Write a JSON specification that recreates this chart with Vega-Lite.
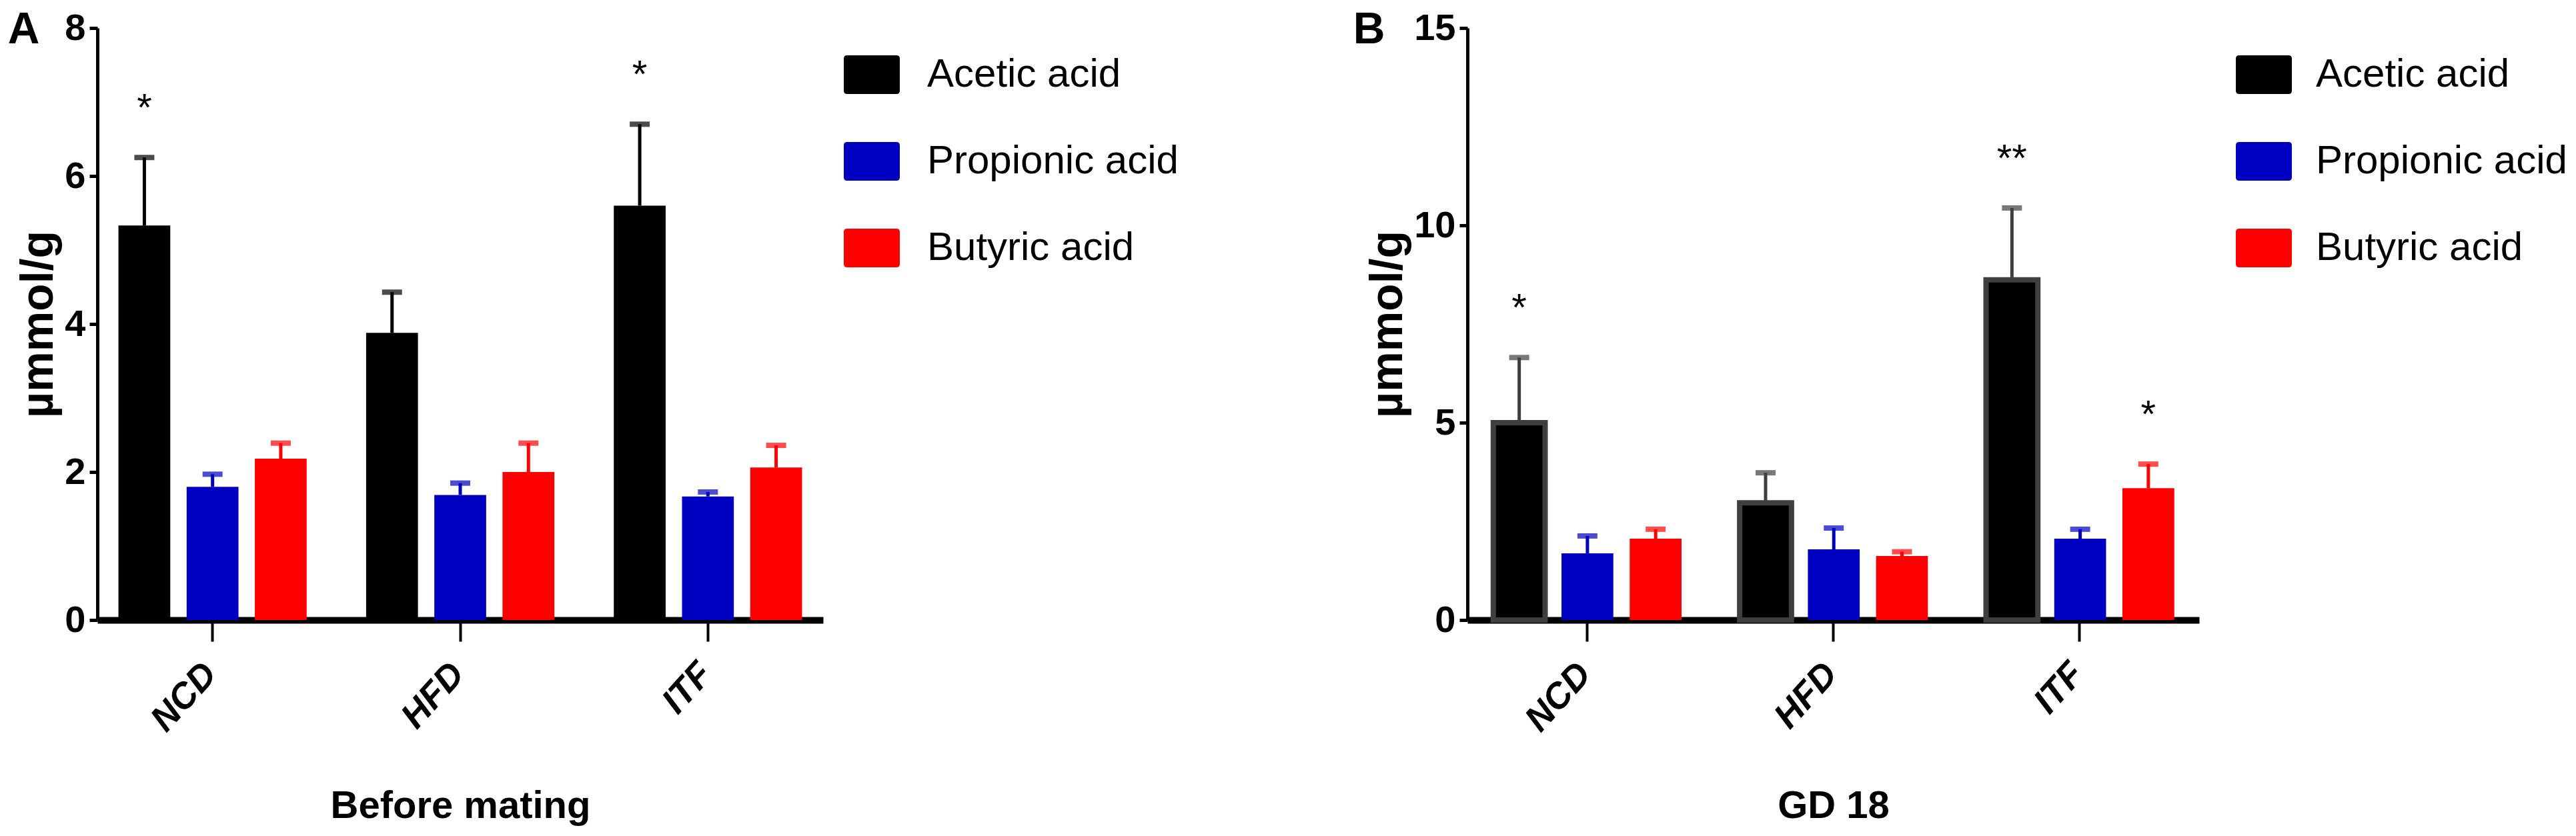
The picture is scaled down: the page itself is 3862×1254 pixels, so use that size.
{
  "$schema": "https://vega.github.io/schema/vega-lite/v6.json",
  "background": "white",
  "padding": {"left": 11, "top": 12, "right": 0, "bottom": 0},
  "config": {
    "view": {"stroke": null},
    "font": "Liberation Sans",
    "axis": {"domainColor": "black", "tickColor": "black", "labelColor": "black", "titleColor": "black", "grid": false, "labelFont": "Liberation Sans", "titleFont": "Liberation Sans"},
    "axisY": {"domainWidth": 5, "tickWidth": 5, "tickSize": 12, "labelFontSize": 56, "labelFontWeight": "bold", "labelPadding": 6, "titleFontSize": 68, "titleFontWeight": "bold", "titlePadding": 4, "format": "d"},
    "axisX": {"domainWidth": 10, "tickWidth": 4, "tickSize": 32, "labelFontSize": 54, "labelFontWeight": "bold", "labelFontStyle": "italic", "labelAngle": -48, "labelPadding": 40, "labelOffset": -3, "titleFontSize": 58, "titleFontWeight": "bold", "titlePadding": 73},
    "title": {"fontSize": 66, "fontWeight": "bold", "anchor": "start", "frame": "bounds", "offset": -65, "color": "black", "font": "Liberation Sans"}
  },
  "datasets": {
    "a": [
      {"group": "NCD", "acid": "Acetic acid", "mean": 5.33, "err": 6.25, "sig": "*"},
      {"group": "NCD", "acid": "Propionic acid", "mean": 1.80, "err": 1.97, "sig": ""},
      {"group": "NCD", "acid": "Butyric acid", "mean": 2.18, "err": 2.39, "sig": ""},
      {"group": "HFD", "acid": "Acetic acid", "mean": 3.88, "err": 4.43, "sig": ""},
      {"group": "HFD", "acid": "Propionic acid", "mean": 1.69, "err": 1.85, "sig": ""},
      {"group": "HFD", "acid": "Butyric acid", "mean": 2.00, "err": 2.39, "sig": ""},
      {"group": "ITF", "acid": "Acetic acid", "mean": 5.60, "err": 6.70, "sig": "*"},
      {"group": "ITF", "acid": "Propionic acid", "mean": 1.67, "err": 1.73, "sig": ""},
      {"group": "ITF", "acid": "Butyric acid", "mean": 2.06, "err": 2.36, "sig": ""}
    ],
    "b": [
      {"group": "NCD", "acid": "Acetic acid", "mean": 5.0, "err": 6.65, "sig": "*"},
      {"group": "NCD", "acid": "Propionic acid", "mean": 1.69, "err": 2.13, "sig": ""},
      {"group": "NCD", "acid": "Butyric acid", "mean": 2.06, "err": 2.30, "sig": ""},
      {"group": "HFD", "acid": "Acetic acid", "mean": 2.97, "err": 3.73, "sig": ""},
      {"group": "HFD", "acid": "Propionic acid", "mean": 1.79, "err": 2.33, "sig": ""},
      {"group": "HFD", "acid": "Butyric acid", "mean": 1.62, "err": 1.73, "sig": ""},
      {"group": "ITF", "acid": "Acetic acid", "mean": 8.62, "err": 10.44, "sig": "**"},
      {"group": "ITF", "acid": "Propionic acid", "mean": 2.06, "err": 2.30, "sig": ""},
      {"group": "ITF", "acid": "Butyric acid", "mean": 3.34, "err": 3.95, "sig": "*"}
    ]
  },
  "spacing": 233,
  "resolve": {"scale": {"color": "independent"}, "legend": {"color": "independent"}},
  "hconcat": [
    {
      "title": {"text": "A", "dx": -13},
      "width": 1088,
      "height": 888,
      "data": {"name": "a"},
      "encoding": {
        "x": {"field": "group", "type": "nominal", "sort": ["NCD", "HFD", "ITF"], "scale": {"paddingInner": 0.24, "paddingOuter": 0.085}, "axis": {"title": "Before mating"}},
        "xOffset": {"field": "acid", "type": "nominal", "sort": ["Acetic acid", "Propionic acid", "Butyric acid"], "scale": {"paddingInner": 0.24, "paddingOuter": 0}}
      },
      "layer": [
        {
          "mark": {"type": "bar"},
          "encoding": {
            "y": {"field": "mean", "type": "quantitative", "title": "µmmol/g", "scale": {"domain": [0, 8], "nice": false}, "axis": {"values": [0, 2, 4, 6, 8]}},
            "color": {
              "field": "acid", "type": "nominal", "sort": ["Acetic acid", "Propionic acid", "Butyric acid"],
              "scale": {"domain": ["Acetic acid", "Propionic acid", "Butyric acid"], "range": ["#000000", "#0000C0", "#FF0000"]},
              "legend": {"title": null, "orient": "right", "offset": 3, "padding": 28, "symbolType": "M-0.88,-0.69L0.88,-0.69Q1,-0.69 1,-0.57L1,0.57Q1,0.69 0.88,0.69L-0.88,0.69Q-1,0.69 -1,0.57L-1,-0.57Q-1,-0.69 -0.88,-0.69Z", "symbolSize": 7056, "symbolStrokeWidth": 0, "labelFont": "Liberation Sans", "labelFontSize": 60, "labelLimit": 1000, "labelOffset": 41, "rowPadding": 58, "labelColor": "black"}
            }
          }
        },
        {
          "mark": {"type": "rule", "strokeWidth": 5},
          "encoding": {
            "y": {"field": "mean", "type": "quantitative", "title": "µmmol/g"},
            "y2": {"field": "err"},
            "color": {"condition": [{"test": "datum.acid === 'Acetic acid'", "value": "#000000"}, {"test": "datum.acid === 'Propionic acid'", "value": "#0000C0"}], "value": "#FF0000"}
          }
        },
        {
          "mark": {"type": "tick", "thickness": 8, "size": 30},
          "encoding": {
            "y": {"field": "err", "type": "quantitative", "title": "µmmol/g"},
            "color": {"condition": [{"test": "datum.acid === 'Acetic acid'", "value": "#000000"}, {"test": "datum.acid === 'Propionic acid'", "value": "#0000C0"}], "value": "#FF0000"}
          }
        },
        {
          "transform": [{"filter": "datum.sig != ''"}],
          "mark": {"type": "text", "fontSize": 58, "dy": -72, "baseline": "middle", "color": "black", "font": "Liberation Sans"},
          "encoding": {
            "y": {"field": "err", "type": "quantitative", "title": "µmmol/g"},
            "text": {"field": "sig"}
          }
        }
      ]
    },
    {
      "title": {"text": "B", "dx": -19},
      "width": 1097,
      "height": 888,
      "data": {"name": "b"},
      "encoding": {
        "x": {"field": "group", "type": "nominal", "sort": ["NCD", "HFD", "ITF"], "scale": {"paddingInner": 0.24, "paddingOuter": 0.105}, "axis": {"title": "GD 18"}},
        "xOffset": {"field": "acid", "type": "nominal", "sort": ["Acetic acid", "Propionic acid", "Butyric acid"], "scale": {"paddingInner": 0.24, "paddingOuter": 0}}
      },
      "layer": [
        {
          "mark": {"type": "bar", "strokeWidth": 8},
          "encoding": {
            "y": {"field": "mean", "type": "quantitative", "title": "µmmol/g", "scale": {"domain": [0, 15], "nice": false}, "axis": {"values": [0, 5, 10, 15]}},
            "stroke": {"condition": {"test": "datum.acid === 'Acetic acid'", "value": "#3f3f3f"}, "value": "transparent"},
            "color": {
              "field": "acid", "type": "nominal", "sort": ["Acetic acid", "Propionic acid", "Butyric acid"],
              "scale": {"domain": ["Acetic acid", "Propionic acid", "Butyric acid"], "range": ["#000000", "#0000C0", "#FF0000"]},
              "legend": {"title": null, "orient": "right", "offset": 27, "padding": 28, "symbolType": "M-0.88,-0.69L0.88,-0.69Q1,-0.69 1,-0.57L1,0.57Q1,0.69 0.88,0.69L-0.88,0.69Q-1,0.69 -1,0.57L-1,-0.57Q-1,-0.69 -0.88,-0.69Z", "symbolSize": 7056, "symbolStrokeWidth": 0, "labelFont": "Liberation Sans", "labelFontSize": 60, "labelLimit": 1000, "labelOffset": 36, "rowPadding": 58, "labelColor": "black",
                "encode": {"symbols": {"stroke": {"value": {"expr": "datum.value === 'Acetic acid' ? '#3f3f3f' : 'transparent'"}}, "strokeWidth": {"value": 8}}}}
            }
          }
        },
        {
          "mark": {"type": "rule", "strokeWidth": 5},
          "encoding": {
            "y": {"field": "mean", "type": "quantitative", "title": "µmmol/g"},
            "y2": {"field": "err"},
            "color": {"condition": [{"test": "datum.acid === 'Acetic acid'", "value": "#3f3f3f"}, {"test": "datum.acid === 'Propionic acid'", "value": "#0000C0"}], "value": "#FF0000"}
          }
        },
        {
          "mark": {"type": "tick", "thickness": 8, "size": 30},
          "encoding": {
            "y": {"field": "err", "type": "quantitative", "title": "µmmol/g"},
            "color": {"condition": [{"test": "datum.acid === 'Acetic acid'", "value": "#3f3f3f"}, {"test": "datum.acid === 'Propionic acid'", "value": "#0000C0"}], "value": "#FF0000"}
          }
        },
        {
          "transform": [{"filter": "datum.sig != ''"}],
          "mark": {"type": "text", "fontSize": 58, "dy": -72, "baseline": "middle", "color": "black", "font": "Liberation Sans"},
          "encoding": {
            "y": {"field": "err", "type": "quantitative", "title": "µmmol/g"},
            "text": {"field": "sig"}
          }
        }
      ]
    }
  ]
}
